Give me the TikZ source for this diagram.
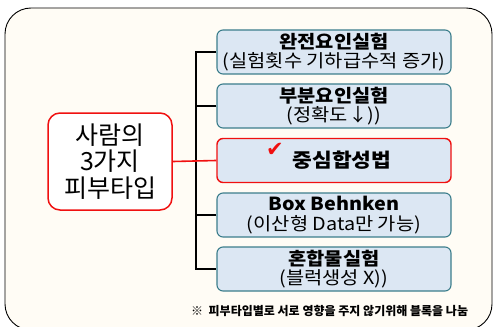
\documentclass[tikz,border=0pt]{standalone}
\usepackage{fontspec}
\setmainfont{Noto Sans CJK KR}
\newfontfamily\boxfont{Noto Sans CJK KR}[FakeStretch=1.1]
\newfontfamily\symfont{DejaVu Sans}
\definecolor{framefill}{HTML}{FFFCF5}
\definecolor{boxfill}{HTML}{DCE7F3}
\definecolor{boxedge}{HTML}{3C7E8C}
\definecolor{hotred}{HTML}{F01010}
\begin{document}
\begin{tikzpicture}[x=1pt,y=-1pt,
  itembox/.style={draw=boxedge, fill=boxfill, rounded corners=6pt, line width=1.1pt,
    minimum width=234pt, minimum height=44pt, inner sep=0pt, align=center,
    font=\boxfont\fontsize{18}{19.5}\selectfont},
  hotbox/.style={itembox, draw=hotred, line width=1.4pt, font=\boxfont\fontsize{19.5}{19.5}\selectfont},
  skinbox/.style={draw=hotred, fill=white, rounded corners=12pt, line width=1.5pt,
    minimum width=124pt, minimum height=97pt, inner sep=0pt, align=center,
    font=\fontsize{25}{26.5}\selectfont},
  link/.style={line width=1.6pt, black},
  hotlink/.style={line width=1.6pt, hotred}]
\useasboundingbox (0,0) rectangle (494,326);
\draw[fill=framefill, line width=0.9pt, rounded corners=26pt] (5,8) rectangle (492,330);
\node[itembox] (b1) at (334,52) {{\bfseries 완전요인실험}\\(실험횟수 기하급수적 증가)};
\node[itembox] (b2) at (334,106) {{\bfseries 부분요인실험}\\(정확도↓))};
\node[hotbox] (b3) at (334,160.5) {\hspace*{16pt}{\bfseries 중심합성법}};
\node[itembox] (b4) at (334,215) {{\bfseries Box Behnken}\\(이산형 Data만 가능)};
\node[itembox] (b5) at (334,269) {{\bfseries 혼합물실험}\\(블럭생성 X))};
\node[skinbox] (skin) at (110,161.5) {사람의\\3가지\\피부타입};
\node[text=hotred, font=\symfont\fontsize{21}{21}\selectfont, inner sep=0pt] (chk) at (275,150) {✔};
\coordinate (spine) at (196,0);
\draw[link] (b1.west) -- (b1.west -| spine) -- (b5.west -| spine) -- (b5.west);
\draw[link] (b2.west) -- (b2.west -| spine);
\draw[link] (b4.west) -- (b4.west -| spine);
\draw[hotlink] (skin.east) -- (b3.west);
\node[anchor=base west, inner sep=0pt, font=\bfseries\fontsize{12}{12}\selectfont] (note) at (191,315) {※\ \ 피부타입별로 서로 영향을 주지 않기위해 블록을 나눔};
\end{tikzpicture}
\end{document}
